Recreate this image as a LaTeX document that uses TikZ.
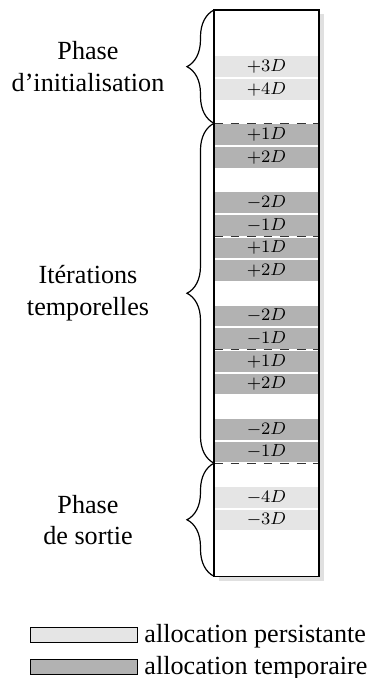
\documentclass[tikz,border=0pt]{standalone}
\usepackage{fontspec}
\setmainfont{Liberation Serif}
\usetikzlibrary{decorations.pathreplacing,calc}
\definecolor{persist}{gray}{0.90}
\definecolor{temp}{gray}{0.70}
\tikzset{
  band/.style={fill=#1, draw=white, line width=0.9pt},
  lbl/.style={font=\fontsize{8}{9.6}\selectfont, inner sep=0pt},
  sep/.style={draw=black!80, line width=0.45pt, dash pattern=on 4pt off 3.6pt},
  colbox/.style={draw=black, line width=0.6pt},
  shadowbox/.style={fill=black!12},
  bracedeco/.style={decorate, decoration={brace, amplitude=12.4pt}, line width=0.55pt},
  phase/.style={align=center, font=\fontsize{12}{14.4}\selectfont, inner sep=0pt},
  legbox/.style={draw=black, line width=0.45pt},
  legtext/.style={font=\fontsize{12}{14.4}\selectfont, inner sep=0pt, anchor=base west}
}
\begin{document}
\begin{tikzpicture}[x=0.4587pt, y=-0.4587pt]
\useasboundingbox (0,0) rectangle (371,678);
\def\u{22.66}
\def\T{10}
\def\L{214}
\def\R{319}
% column corners
\coordinate (ctl) at (\L,\T);
\coordinate (cbr) at (\R,576.3);
% shadow and column background
\fill[shadowbox] ($(ctl)+(4.5,4.5)$) rectangle ($(cbr)+(4.5,4.5)$);
\fill[white] (ctl) rectangle (cbr);
% initialisation phase
\path[band=persist] (\L,{\T+2*\u}) rectangle (\R,{\T+3*\u});
\path[band=persist] (\L,{\T+3*\u}) rectangle (\R,{\T+4*\u});
\node[lbl] (p3) at (266.5,{\T+2.5*\u}) {$+3D$};
\node[lbl] (p4) at (266.5,{\T+3.5*\u}) {$+4D$};
% iterations
\foreach \k in {1,2,3}{
  \pgfmathsetmacro{\t}{\T+5*\u*\k}
  \path[band=temp] (\L,\t) rectangle (\R,{\t+\u});
  \path[band=temp] (\L,{\t+\u}) rectangle (\R,{\t+2*\u});
  \path[band=temp] (\L,{\t+3*\u}) rectangle (\R,{\t+4*\u});
  \path[band=temp] (\L,{\t+4*\u}) rectangle (\R,{\t+5*\u});
  \node[lbl] (a\k) at (266.5,{\t+0.5*\u}) {$+1D$};
  \node[lbl] (b\k) at (266.5,{\t+1.5*\u}) {$+2D$};
  \node[lbl] (c\k) at (266.5,{\t+3.5*\u}) {$-2D$};
  \node[lbl] (d\k) at (266.5,{\t+4.5*\u}) {$-1D$};
}
% output phase
\pgfmathsetmacro{\o}{\T+20*\u}
\path[band=persist] (\L,{\o+\u}) rectangle (\R,{\o+2*\u});
\path[band=persist] (\L,{\o+2*\u}) rectangle (\R,{\o+3*\u});
\node[lbl] (m4) at (266.5,{\o+1.5*\u}) {$-4D$};
\node[lbl] (m3) at (266.5,{\o+2.5*\u}) {$-3D$};
% separators
\foreach \k in {1,2,3,4}{
  \coordinate (sl\k) at (\L,{\T+5*\u*\k});
  \coordinate (sr\k) at (\R,{\T+5*\u*\k});
  \draw[sep] (sl\k) -- (sr\k);
}
% column border
\draw[colbox] (ctl) rectangle (cbr);
\coordinate (cbl) at (\L,576.3);
% braces
\draw[bracedeco] (sl1) -- (ctl);
\draw[bracedeco] (sl4) -- (sl1);
\draw[bracedeco] (cbl) -- (sl4);
% phase labels
\node[phase] (init) at (88,{\T+2.5*\u}) {Phase\\d’initialisation};
\node[phase] (iter) at (88,{\T+12.5*\u}) {Itérations\\temporelles};
\node[phase] (out) at (88,{\T+22.5*\u}) {Phase\\de sortie};
% legend
\draw[legbox, fill=persist] (30,627.3) rectangle (137,642.7);
\draw[legbox, fill=temp] (30,659) rectangle (137,674.3);
\node[legtext] (lp) at (144,642.3) {allocation persistante};
\node[legtext] (lt) at (144,674.0) {allocation temporaire};
\end{tikzpicture}
\end{document}
